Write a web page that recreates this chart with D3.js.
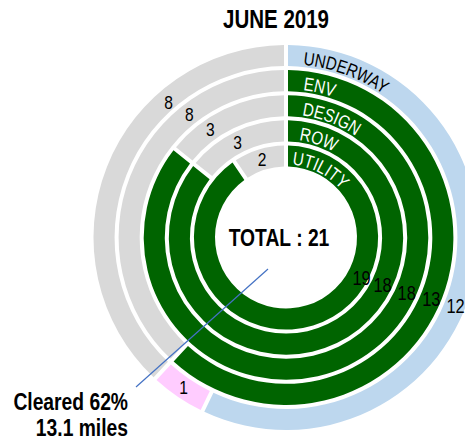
<!DOCTYPE html>
<html><head><meta charset="utf-8">
<script src="https://cdn.jsdelivr.net/npm/d3@7"></script>
<style>body{margin:0;background:#fff} svg{display:block}</style>
</head><body><svg id="c" width="465" height="441"></svg>
<script>
// ---- data ----
const title = "JUNE 2019";
const rings = ["UTILITY", "ROW", "DESIGN", "ENV", "UNDERWAY"];   // inner -> outer
const complete = [19, 18, 18, 13, 12];
const partial = [0, 0, 0, 0, 1];
const remaining = [2, 3, 3, 8, 8];
const total = 21;
const centerLabel = "TOTAL : 21";
const noteLines = ["Cleared 62%", "13.1 miles"];

// ---- layout ----
const W = 465, H = 441, cx = 286, cy = 237.5;
const FONT = "'Liberation Sans',Arial,sans-serif";
const NARROW = 0.82;
const COL = { complete: "#006400", underway: "#bdd7ee", partial: "#ffccff", remaining: "#d9d9d9" };
const completeLabelDeg = [118, 116.3, 114.6, 113, 112];
const remainingLabelDeg = [343, 333, 325, 322, 319];
const nameOffset = [6, 13, 16, 17, 17];

// condense text to mimic a narrow face
function condense(sel) {
  sel.each(function () {
    const len = this.getComputedTextLength();
    d3.select(this).attr("textLength", len * NARROW).attr("lengthAdjust", "spacingAndGlyphs");
  });
  return sel;
}

const svg = d3.select("#c");
const g = svg.append("g").attr("transform", `translate(${cx},${cy})`);

const rScale = d3.scaleBand().domain(rings).range([71, 192.5]).paddingInner(0.16).paddingOuter(0);
const aScale = d3.scaleLinear().domain([0, total]).range([0, 2 * Math.PI]);

const arc = d3.arc().padAngle(0.04).padRadius(100);
const pol = (deg, r) => [Math.sin(deg * Math.PI / 180) * r, -Math.cos(deg * Math.PI / 180) * r];

rings.forEach((name, i) => {
  const r0 = rScale(name), r1 = r0 + rScale.bandwidth();
  const segs = [
    { key: "complete", v: complete[i], color: name === "UNDERWAY" ? COL.underway : COL.complete },
    { key: "partial", v: partial[i], color: COL.partial },
    { key: "remaining", v: remaining[i], color: COL.remaining }
  ];
  let acc = 0;
  segs.forEach(s => { s.start = acc; acc += s.v; s.end = acc; });
  g.selectAll(null).data(segs.filter(s => s.v > 0)).enter().append("path")
    .attr("d", s => arc({ innerRadius: r0, outerRadius: r1, startAngle: aScale(s.start), endAngle: aScale(s.end) }))
    .attr("fill", s => s.color);

  // ring name along the arc
  const rb = r0 + 2;
  g.append("path").attr("id", "rp" + i).attr("fill", "none")
    .attr("d", `M0,${-rb} A${rb},${rb} 0 1,1 0,${rb} A${rb},${rb} 0 1,1 0,${-rb}`);
  const tp = g.append("text").attr("font-family", FONT).attr("font-size", 18.5)
    .attr("fill", name === "UNDERWAY" ? "#000" : "#fff")
    .append("textPath").attr("href", "#rp" + i).attr("startOffset", nameOffset[i]).text(name);
  const tl = tp.node().getComputedTextLength();
  tp.attr("textLength", tl * NARROW).attr("lengthAdjust", "spacingAndGlyphs");

  // value labels
  const rm = (r0 + r1) / 2;
  let p = pol(completeLabelDeg[i], rm + (i === 0 ? 4 : 1));
  condense(g.append("text").attr("x", p[0]).attr("y", p[1]).attr("dy", "0.35em").attr("text-anchor", "middle")
    .attr("font-family", FONT).attr("font-size", 20).attr("fill", "#000").text(complete[i]));
  p = pol(remainingLabelDeg[i], rm - (i === 4 ? 3 : 0));
  condense(g.append("text").attr("x", p[0]).attr("y", p[1]).attr("dy", "0.35em").attr("text-anchor", "middle")
    .attr("font-family", FONT).attr("font-size", 19).attr("fill", "#000").text(remaining[i]));
  if (partial[i] > 0) {
    p = pol(aScale(complete[i] + partial[i] / 2) * 180 / Math.PI, rm);
    condense(g.append("text").attr("x", p[0]).attr("y", p[1]).attr("dy", "0.35em").attr("text-anchor", "middle")
      .attr("font-family", FONT).attr("font-size", 19).attr("fill", "#000").text(partial[i]));
  }
});

// center label
condense(g.append("text").attr("x", -7).attr("y", 0).attr("dy", "0.35em").attr("text-anchor", "middle")
  .attr("font-family", FONT).attr("font-weight", "bold").attr("font-size", 23.5).text(centerLabel));

// title
condense(svg.append("text").attr("x", 276).attr("y", 28).attr("text-anchor", "middle")
  .attr("font-family", FONT).attr("font-weight", "bold").attr("font-size", 25).text(title));

// leader line + note
g.append("line").attr("x1", -18).attr("y1", 31.5).attr("x2", -150).attr("y2", 149.5)
  .attr("stroke", "#4472c4").attr("stroke-width", 1.2);
condense(svg.selectAll(".note").data(noteLines).enter().append("text").attr("class", "note")
  .attr("x", 128).attr("y", (d, i) => 410 + i * 26).attr("text-anchor", "end")
  .attr("font-family", FONT).attr("font-weight", "bold").attr("font-size", 23.5).text(d => d));
</script></body></html>
